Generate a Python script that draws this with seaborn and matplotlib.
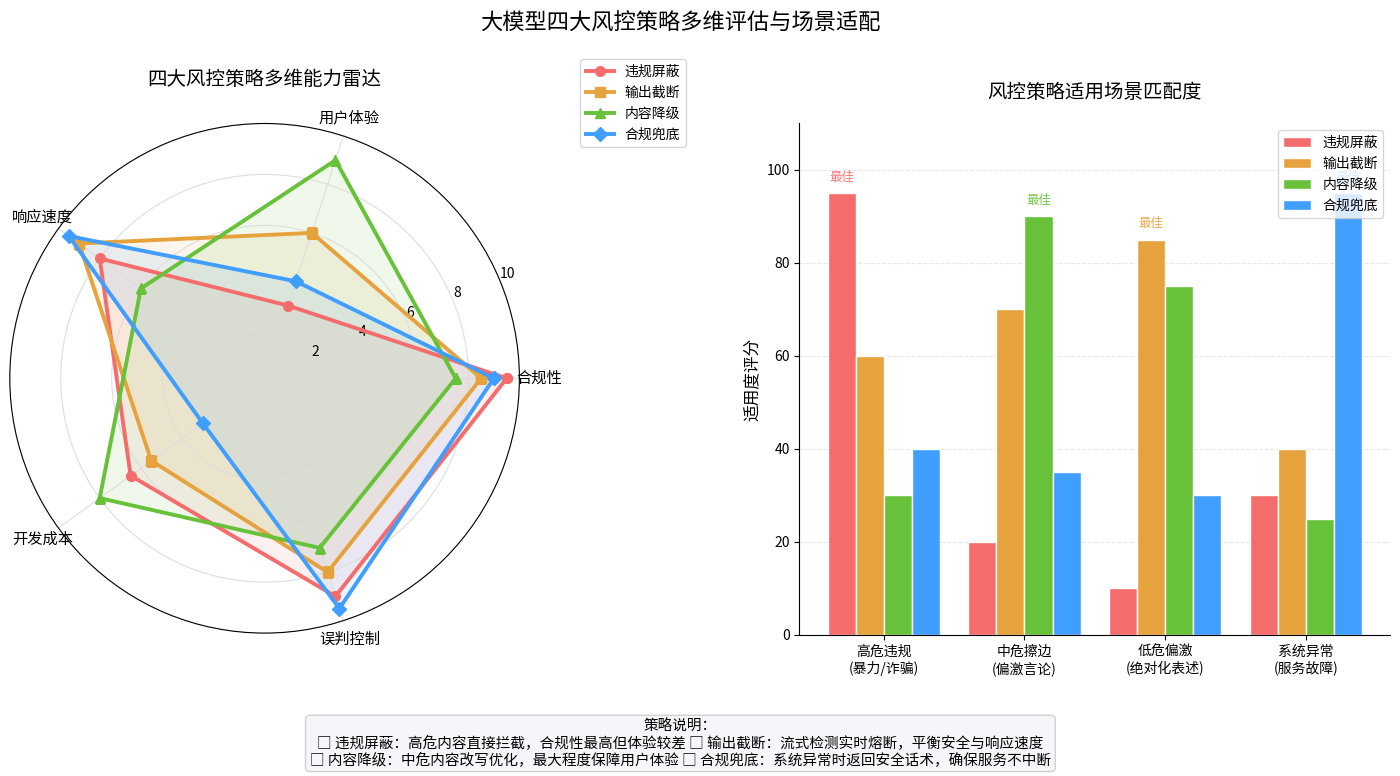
import numpy as np
import pandas as pd
import seaborn as sns
from matplotlib import pyplot as plt

# * data
strategies = ["违规屏蔽", "输出截断", "内容降级", "合规兜底"]
colors = ["#F56C6C", "#E6A23C", "#67C23A", "#409EFF"]
markers = ["o", "s", "^", "D"]

dimensions = ["合规性", "用户体验", "响应速度", "开发成本", "误判控制"]
radar_red = [9.5, 3, 8, 6.5, 9]
radar_orange = [8.5, 6, 9, 5.5, 8]
radar_green = [7.5, 9, 6, 8, 7]
radar_blue = [9, 4, 9.5, 3, 9.5]

scenarios = ["高危违规\n(暴力/诈骗)", "中危擦边\n(偏激言论)", "低危偏激\n(绝对化表述)", "系统异常\n(服务故障)"]
fit_red = [95, 20, 10, 30]
fit_orange = [60, 70, 85, 40]
fit_green = [30, 90, 75, 25]
fit_blue = [40, 35, 30, 95]

notes_title = "策略说明："
notes = [
    "□ 违规屏蔽：高危内容直接拦截，合规性最高但体验较差",
    "□ 输出截断：流式检测实时熔断，平衡安全与响应速度",
    "□ 内容降级：中危内容改写优化，最大程度保障用户体验",
    "□ 合规兜底：系统异常时返回安全话术，确保服务不中断",
]

plt.style.use("default")
plt.rcParams["font.family"] = ["Noto Sans CJK SC", "DejaVu Sans"]
plt.rcParams["axes.unicode_minus"] = False

fig = plt.figure(figsize=(14, 7.76), dpi=100)
fig.suptitle("大模型四大风控策略多维评估与场景适配", x=0.486, y=0.985, fontsize=16)

# * radar
ax1 = fig.add_axes([0.007, 0.184, 0.364, 0.657], projection="polar")
angles = np.linspace(0, 2 * np.pi, len(dimensions), endpoint=False).tolist()
angles_closed = angles + angles[:1]
radar_values = [radar_red, radar_orange, radar_green, radar_blue]
for name, vals, c, m in zip(strategies, radar_values, colors, markers):
    v = vals + vals[:1]
    ax1.plot(angles_closed, v, color=c, linewidth=2.8, marker=m, markersize=7, label=name)
    ax1.fill(angles_closed, v, color=c, alpha=0.1)
ax1.set_xticks(angles)
ax1.set_xticklabels(dimensions, fontsize=11)
ax1.set_ylim(0, 10)
ax1.set_yticks([2, 4, 6, 8, 10])
ax1.set_yticklabels(["2", "4", "6", "8", "10"], fontsize=10)
ax1.grid(color="#dddddd", linewidth=0.8)
ax1.set_title("四大风控策略多维能力雷达", fontsize=14, pad=28)
ax1.legend(loc="upper right", bbox_to_anchor=(1.34, 1.14), fontsize=10)

# * bars
ax2 = fig.add_axes([0.571, 0.182, 0.422, 0.659])
df = pd.DataFrame({
    "场景": scenarios * 4,
    "策略": [s for s in strategies for _ in scenarios],
    "评分": fit_red + fit_orange + fit_green + fit_blue,
})
sns.barplot(
    data=df, x="场景", y="评分", hue="策略", hue_order=strategies,
    palette=colors, width=0.8, edgecolor="white", linewidth=1, saturation=1, ax=ax2,
)
ax2.set_xlim(-0.6, 3.6)
ax2.set_ylim(0, 110)
ax2.set_yticks([0, 20, 40, 60, 80, 100])
ax2.set_xlabel("")
ax2.set_ylabel("适用度评分", fontsize=12)
ax2.set_title("风控策略适用场景匹配度", fontsize=14, pad=18)
ax2.tick_params(labelsize=10)
ax2.grid(axis="y", linestyle="--", alpha=0.3)
ax2.set_axisbelow(True)
ax2.spines["top"].set_visible(False)
ax2.spines["right"].set_visible(False)

# * mark best strategy per scenario
fits = np.array([fit_red, fit_orange, fit_green, fit_blue])
for j in range(len(scenarios)):
    i = int(fits[:, j].argmax())
    bar = ax2.containers[i][j]
    ax2.text(bar.get_x() + bar.get_width() / 2, bar.get_height() + 2, "最佳",
             ha="center", va="bottom", fontsize=9, color=colors[i], alpha=0.9)
ax2.legend(loc="upper right", fontsize=10)

# * notes box
notes_text = notes_title + "\n" + notes[0] + " " + notes[1] + "\n" + notes[2] + " " + notes[3]
fig.text(0.486, 0.042, notes_text, ha="center", va="center", fontsize=10.5, linespacing=1.15,
         bbox=dict(boxstyle="round,pad=0.3", facecolor="#f4f6f9", edgecolor="#cccccc", alpha=0.9))

fig.savefig("out.png", dpi=100)
plt.close()
